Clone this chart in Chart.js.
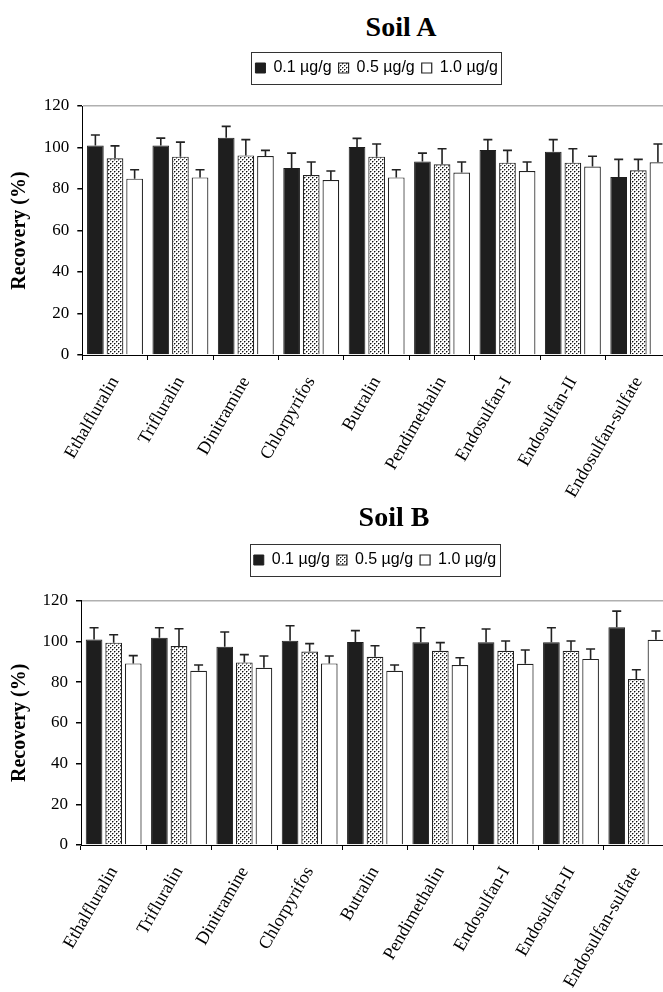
<!DOCTYPE html>
<html>
<head>
<meta charset="utf-8">
<script src="https://cdn.jsdelivr.net/npm/chart.js@4.4.1/dist/chart.umd.min.js"></script>
<style>
  html, body { margin:0; padding:0; width:663px; height:992px; overflow:hidden; background:#fff; }
  body { position:relative; }
  .ttl { position:absolute; width:200px; text-align:center; font-family:'Liberation Serif', serif; font-weight:bold; font-size:28px; line-height:1; color:#000; }
  .wrap { position:absolute; left:0; width:750px; }
</style>
</head>
<body>
<div class="ttl" style="left:301px; top:12.5px;">Soil A</div>
<div class="wrap" style="top:45px; height:460px;"><canvas id="chartA"></canvas></div>
<div class="ttl" style="left:294px; top:502.5px;">Soil B</div>
<div class="wrap" style="top:537px; height:455px;"><canvas id="chartB"></canvas></div>
<script>
// ---- data ----
const categories = ['Ethalfluralin','Trifluralin','Dinitramine','Chlorpyrifos','Butralin','Pendimethalin','Endosulfan-I','Endosulfan-II','Endosulfan-sulfate'];
const seriesLabels = ['0.1 µg/g','0.5 µg/g','1.0 µg/g'];
const yTicks = [0,20,40,60,80,100,120];

const soilA_01 = [101, 101, 104.7, 90.1, 100.2, 93.2, 98.8, 98, 85.8];
const soilA_05 = [94.8, 95.6, 96.2, 86.7, 95.6, 91.9, 92.7, 92.7, 89];
const soilA_10 = [85, 85.6, 95.9, 84.3, 85.6, 87.9, 88.7, 90.8, 92.9];
const soilA_01_sd = [5, 3.5, 5.5, 7.2, 4.2, 4.1, 5, 5.8, 8.5];
const soilA_05_sd = [6, 7, 7.6, 6.3, 6.1, 7.5, 5.9, 6.7, 5.3];
const soilA_10_sd = [4.3, 3.7, 2.7, 4.4, 3.7, 5.1, 4.3, 5, 8.8];

const soilB_01 = [101, 101.8, 97.4, 100.3, 99.7, 99.6, 99.6, 99.6, 106.9];
const soilB_05 = [99.4, 97.7, 89.7, 95, 92.5, 95.4, 95.4, 95.4, 81.5];
const soilB_10 = [89.2, 85.6, 87.1, 89.2, 85.6, 88.4, 89, 91.4, 100.8];
const soilB_01_sd = [5.7, 4.9, 7.2, 7.4, 5.6, 7.1, 6.5, 7.1, 8];
const soilB_05_sd = [3.9, 8.5, 3.8, 3.9, 5.4, 4, 4.8, 4.8, 4.6];
const soilB_10_sd = [3.8, 2.8, 5.7, 3.6, 2.8, 3.6, 6.8, 4.9, 4.3];

// ---- dotted fill pattern ----
function makeDots() {
  const c = document.createElement('canvas');
  c.width = 4; c.height = 4;
  const g = c.getContext('2d');
  g.fillStyle = '#fff'; g.fillRect(0,0,4,4);
  g.fillStyle = '#111';
  g.fillRect(0,0,1,1); g.fillRect(2,2,1,1);
  g.fillStyle = 'rgba(0,0,0,0.4)';
  g.fillRect(1,0,1,1); g.fillRect(0,1,1,1); g.fillRect(3,2,1,1); g.fillRect(2,3,1,1);
  return g.createPattern(c, 'repeat');
}
const dots = makeDots();

const errorBarPlugin = {
  id: 'errorBars',
  afterDatasetsDraw(chart) {
    const ctx = chart.ctx, ys = chart.scales.y;
    ctx.save();
    ctx.strokeStyle = '#222';
    ctx.lineWidth = 1.6;
    chart.data.datasets.forEach((ds, i) => {
      const meta = chart.getDatasetMeta(i);
      meta.data.forEach((bar, j) => {
        const v = ds.data[j], e = ds.errorBars[j];
        const y0 = ys.getPixelForValue(v);
        const y1 = ys.getPixelForValue(v + e);
        ctx.beginPath();
        ctx.moveTo(bar.x, y0); ctx.lineTo(bar.x, y1);
        ctx.moveTo(bar.x - 4.5, y1); ctx.lineTo(bar.x + 4.5, y1);
        ctx.stroke();
      });
    });
    ctx.restore();
  }
};

const legendBoxPlugin = {
  id: 'legendBox',
  afterDraw(chart) {
    const hb = chart.legend && chart.legend.legendHitBoxes;
    if (!hb || !hb.length) return;
    const ctx = chart.ctx;
    const l = Math.min(...hb.map(h => h.left)) - 4;
    const r = Math.max(...hb.map(h => h.left + h.width)) + 4;
    const t = hb[0].top - 8;
    const b = hb[0].top + hb[0].height + 8;
    ctx.save();
    ctx.strokeStyle = '#333';
    ctx.lineWidth = 1;
    ctx.strokeRect(Math.round(l) + 0.5, Math.round(t) + 0.5, Math.round(r - l), Math.round(b - t));
    ctx.restore();
  }
};

function makeChart(id, d01, d05, d10, e01, e05, e10, cfg) {
  return new Chart(document.getElementById(id), {
    type: 'bar',
    data: {
      labels: categories,
      datasets: [
        { label: seriesLabels[0], data: d01, errorBars: e01, backgroundColor: '#1e1e1e', borderColor: '#1e1e1e', borderWidth: 1 },
        { label: seriesLabels[1], data: d05, errorBars: e05, backgroundColor: dots, borderColor: '#222', borderWidth: 1.2 },
        { label: seriesLabels[2], data: d10, errorBars: e10, backgroundColor: '#fff', borderColor: '#222', borderWidth: 1.2 }
      ]
    },
    options: {
      responsive: true,
      maintainAspectRatio: false,
      animation: false,
      devicePixelRatio: 1,
      layout: { padding: { top: 8, left: 0, right: cfg.padRight, bottom: 0 } },
      datasets: { bar: { categoryPercentage: 0.9, barPercentage: 0.85 } },
      plugins: {
        legend: {
          display: true, position: 'top', fullSize: false,
          labels: { boxWidth: 10, boxHeight: 10, padding: 7, color: '#000', font: { family: 'Liberation Sans', size: 16 } }
        },
        // empty spacer between legend and plot area
        title: { display: true, text: '', weight: 500, font: { size: 10, lineHeight: 1 }, padding: { top: 0, bottom: cfg.gap - 10 } },
        tooltip: { enabled: false }
      },
      scales: {
        x: {
          ticks: { font: { family: 'Liberation Serif', size: 18 }, color: '#000', maxRotation: 60, minRotation: 60, autoSkip: false, padding: 13 },
          grid: { display: true, drawOnChartArea: false, drawTicks: true, tickLength: 5, color: '#000', offset: true },
          border: { display: true, color: '#000', width: 1 },
          afterFit: s => { s.height = cfg.xh; }
        },
        y: {
          min: 0, max: 120,
          afterBuildTicks: s => { s.ticks = yTicks.map(v => ({ value: v })); },
          ticks: { font: { family: 'Liberation Serif', size: 17 }, color: '#000', padding: 8 },
          grid: {
            color: c => (c.tick && c.tick.value === 120) ? '#b0b0b0' : 'rgba(0,0,0,0)',
            tickColor: '#000', tickLength: 5, drawTicks: true, lineWidth: 1.5
          },
          border: { display: true, color: '#000', width: 1 },
          title: { display: true, text: 'Recovery (%)', color: '#000', font: { family: 'Liberation Serif', size: 20, weight: 'bold' }, padding: { top: 8, bottom: 10 } },
          afterFit: s => { s.width = cfg.left; }
        }
      }
    },
    plugins: [errorBarPlugin, legendBoxPlugin]
  });
}

makeChart('chartA', soilA_01, soilA_05, soilA_10, soilA_01_sd, soilA_05_sd, soilA_10_sd,
  { padRight: 79, left: 82.3, gap: 20, xh: 150 });
makeChart('chartB', soilB_01, soilB_05, soilB_10, soilB_01_sd, soilB_05_sd, soilB_10_sd,
  { padRight: 81, left: 81, gap: 22.7, xh: 147 });
</script>
</body>
</html>
